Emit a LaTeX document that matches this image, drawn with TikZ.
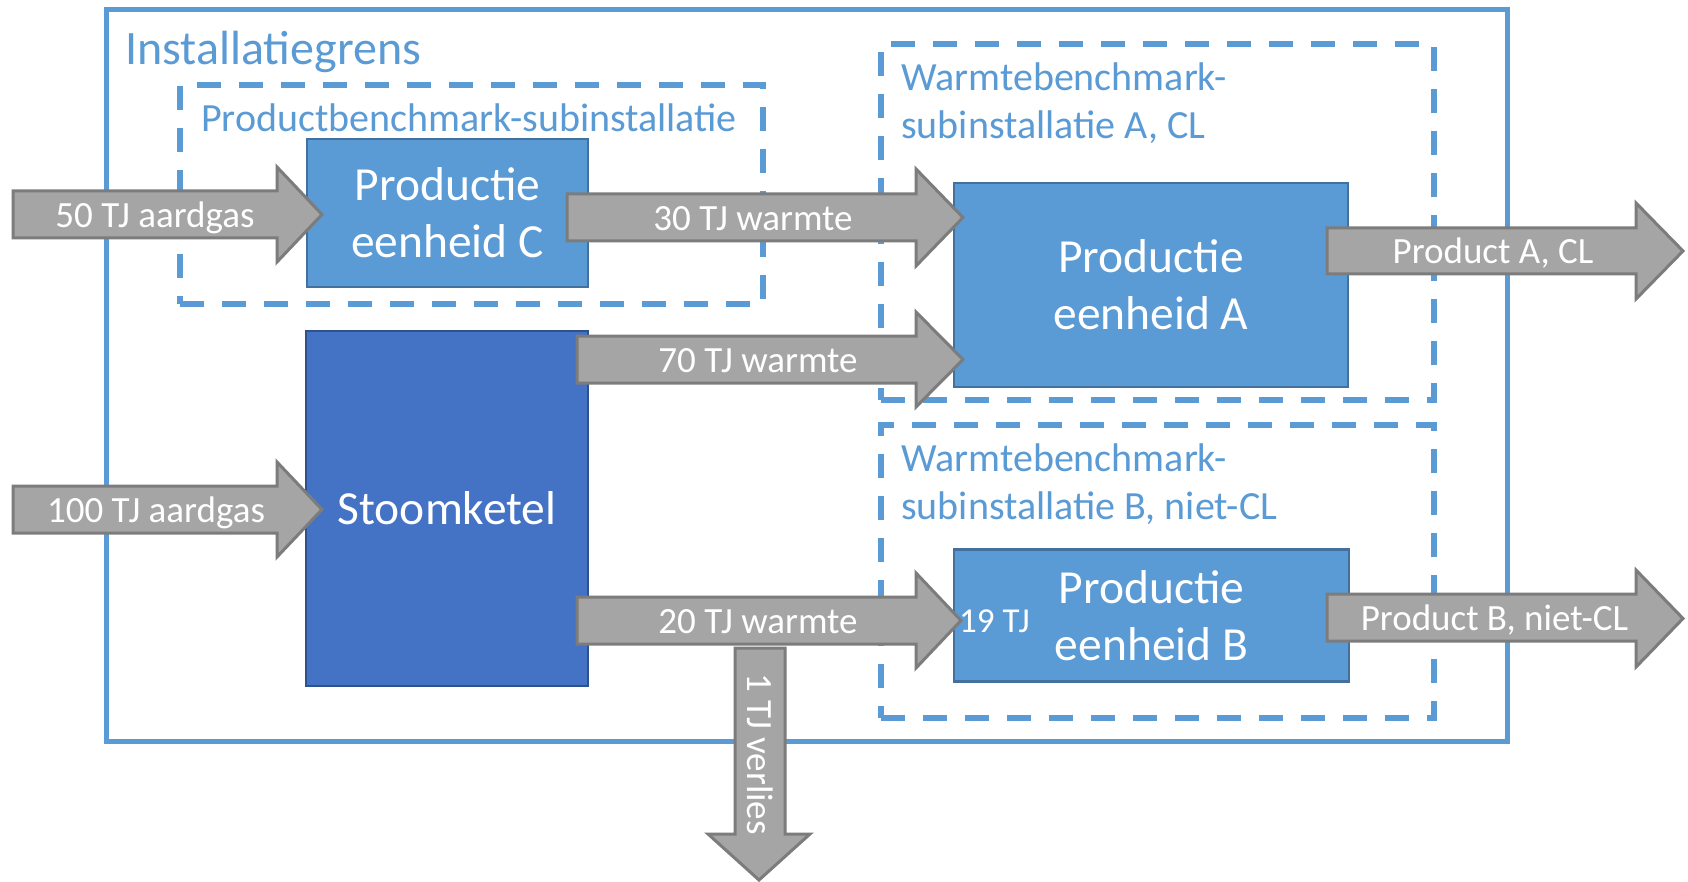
\documentclass[tikz,border=0pt]{standalone}
\usepackage{fontspec}
\setmainfont{Carlito}
\definecolor{blu}{HTML}{5B9BD5}
\definecolor{unitfill}{HTML}{5B9BD5}
\definecolor{unitborder}{HTML}{41719C}
\definecolor{boilfill}{HTML}{4472C4}
\definecolor{boilborder}{HTML}{2F528F}
\definecolor{arrowgray}{HTML}{A5A5A5}
\definecolor{arrowborder}{HTML}{7C7C7C}
\newcommand\blockR[7]{% x0,yT,yB,hx,hT,hB,tip
  \draw[blk] (#1,#2) -- (#4,#2) -- (#4,#5) -- (#7,{(#5+#6)/2}) -- (#4,#6) -- (#4,#3) -- (#1,#3) -- cycle;}
\tikzset{
 frame/.style={draw=blu, line width=5pt, inner sep=0pt},
 dframe/.style={draw=blu, line width=5.5pt, dash pattern=on 24pt off 18pt, inner sep=0pt},
 unit/.style={draw=unitborder, fill=unitfill, line width=2.5pt, text=white,
   font=\fontsize{47.5}{57}\selectfont, align=center, inner sep=0pt},
 boiler/.style={unit, fill=boilfill, draw=boilborder},
 blk/.style={fill=arrowgray, draw=arrowborder, line width=3pt, line join=miter},
 albl/.style={text=white, font=\fontsize{37}{44}\selectfont, inner sep=0pt, text height=26pt, text depth=0pt},
 flbl/.style={text=blu, inner sep=0pt, anchor=base west, font=\fontsize{40}{48}\selectfont},
}
\begin{document}
\begin{tikzpicture}[x=1pt,y=-1pt]
\useasboundingbox (0,0) rectangle (1688,882);
\fill[white] (0,0) rectangle (1688,882);

% frames
\node[frame, minimum width=1401pt, minimum height=731pt] (inst) at (806.5,375.5) {};
\node[flbl, font=\fontsize{48}{57}\selectfont] (instlbl) at (125,65) {Installatiegrens};

\node[dframe, minimum width=583pt, minimum height=219pt] (subC) at (471.5,194.5) {};
\node[flbl] (subClbl) at (201,132) {Productbenchmark-subinstallatie};

\node[dframe, minimum width=553pt, minimum height=356pt] (subA) at (1157.5,222) {};
\node[flbl] (subAlbl) at (901,90.5) {\vtop{\hbox{Warmtebenchmark-}\hbox{subinstallatie A, CL}}};

\node[dframe, minimum width=553pt, minimum height=293pt] (subB) at (1157.5,571.5) {};
\node[flbl] (subBlbl) at (901,471.5) {\vtop{\hbox{Warmtebenchmark-}\hbox{subinstallatie B, niet-CL}}};

% units
\node[unit, minimum width=281pt, minimum height=148pt] (C) at (447.5,213) {Productie\\eenheid C};
\node[boiler, minimum width=282pt, minimum height=355pt] (S) at (447,508.5) {Stoomketel};
\node[unit, minimum width=394pt, minimum height=204pt] (A) at (1151,285) {Productie\\eenheid A};
\node[unit, minimum width=395pt, minimum height=132pt] (B) at (1151.5,615.3) {Productie\\eenheid B};

% block arrows
\blockR{13}{191}{238}{277}{167}{262}{322}
\node[albl] (g50) at (155,214.5) {50 TJ aardgas};
\blockR{13}{486}{533}{277}{462}{557}{322}
\node[albl] (g100) at (156,509.5) {100 TJ aardgas};
\blockR{567}{194}{241}{916}{169}{266}{963}
\node[albl] (w30) at (753,217.5) {30 TJ warmte};
\blockR{577}{336}{383}{916}{312}{407}{963}
\node[albl] (w70) at (758,359.5) {70 TJ warmte};
\blockR{577}{597}{644}{916}{573}{668}{961}
\node[albl] (w20) at (758,620.5) {20 TJ warmte};
\blockR{1327}{228}{274}{1636}{203}{299}{1683}
\node[albl] (pA) at (1493,251) {Product A, CL};
\blockR{1327}{594}{641}{1636}{570}{667}{1683}
\node[albl] (pB) at (1494.5,617.5) {Product B, niet-CL};
% downward loss arrow
\draw[blk] (735,648) -- (785,648) -- (785,834) -- (810,834) -- (759,880) -- (708,834) -- (735,834) -- cycle;
\node[albl, rotate=-90] (loss) at (760,754) {1 TJ verlies};

\node[text=white, font=\fontsize{35}{42}\selectfont, inner sep=0pt, anchor=base west] (n19) at (959,632) {19 TJ};
\end{tikzpicture}
\end{document}
